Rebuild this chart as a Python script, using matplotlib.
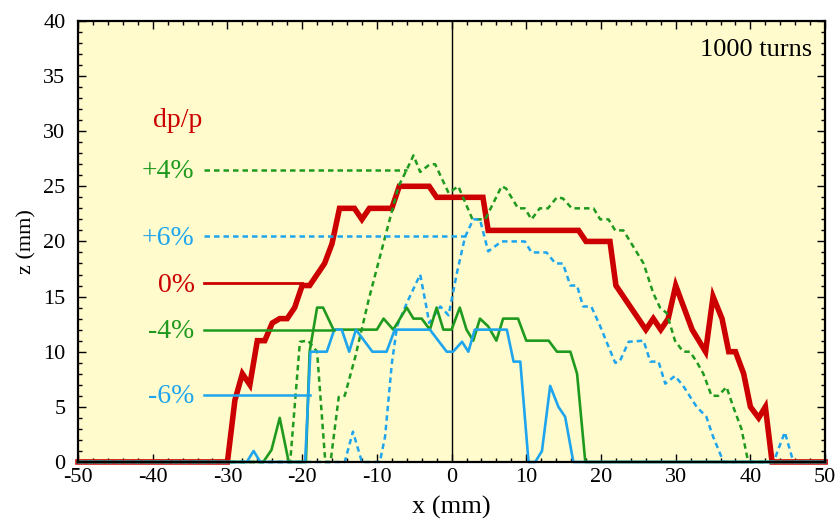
import matplotlib
matplotlib.use("Agg")
import matplotlib.pyplot as plt
from matplotlib.ticker import MultipleLocator
from matplotlib.transforms import ScaledTranslation

plt.rcParams['font.family'] = ['Liberation Serif', 'DejaVu Serif']
plt.rcParams['axes.unicode_minus'] = False

# dp/p = 0 %
red_x = [-50, -30, -29, -28, -27, -26, -25, -24, -23, -22, -21, -20, -19, -18, -17, -16, -15, -13, -12, -11, -8, -7, -3, -2, 4.2, 4.9, 17, 18, 21.2, 22, 26, 27, 28, 29, 30, 32.2, 34, 35, 36.2, 37.1, 38, 39.1, 40, 41.1, 42, 42.9, 50]
red_z = [0, 0, 5.6, 8, 7, 11, 11, 12.6, 13, 13, 14, 16, 16, 17, 18, 19.8, 23, 23, 22, 23, 23, 25, 25, 24, 24, 21, 21, 20, 20, 16, 12, 13, 12, 13, 16, 12, 10, 15, 13, 10, 10, 8, 5, 4, 5, 0, 0]

# dp/p = -4 %
gs_x = [-50, -25.2, -24.1, -23, -21.8, -19.5, -19, -18, -17.2, -15.8, -10, -9.1, -7.8, -6, -5.1, -4, -2.9, -2, -1.1, 0, 1.1, 2, 2.9, 3.8, 4.9, 6, 6.9, 8.9, 10, 13, 14.1, 15.9, 16.8, 17.9, 50]
gs_z = [0, 0, 1.1, 4, 0, 0, 10, 14, 14, 12, 12, 13, 12, 14, 13, 13, 12, 14, 12, 12, 14, 12, 11, 13, 12.3, 11, 13, 13, 11, 11, 10, 10, 8, 0, 0]

# dp/p = -6 %
bs_x = [-50, -27.4, -26.5, -25.6, -19.6, -18.9, -16.7, -15.7, -14.7, -13.7, -12.8, -10.6, -8.7, -7.6, -2.9, -0.65, 0.2, 1.4, 2.25, 3.1, 7.4, 8.3, 9.2, 10.3, 11.2, 12.1, 13.2, 14.3, 15.2, 16.3, 50]
bs_z = [0, 0, 1, 0, 0, 10, 10, 12, 12, 10, 12, 10, 10, 12, 12, 10, 10, 10.9, 10, 12, 12, 9.1, 9.1, 0, 0, 1, 6.9, 5, 4.1, 0, 0]

# dp/p = +4 %
gd_x = [-50, -21.6, -20.3, -19.2, -18, -16.9, -16.2, -15.1, -14.3, -12.9, -11.1, -8.9, -7.1, -6, -5.1, -4.2, -2.9, -2.2, -0.4, 0.9, 2.8, 4.5, 6.7, 7.3, 8.9, 9.8, 10.7, 11.8, 12.9, 14.1, 14.9, 16.1, 19, 19.9, 21, 21.9, 23, 23.9, 25.7, 27, 27.9, 28.8, 29.9, 31, 31.9, 32.8, 33.7, 34.8, 35.7, 36.8, 37.7, 38.8, 39.7, 50]
gd_z = [0, 0, 10.9, 11, 10, 0, 0, 5.9, 6, 9.5, 14.7, 20.4, 25, 26.5, 27.8, 26.3, 27, 27, 24.4, 25, 22, 22, 25, 24.8, 23, 23, 22, 23, 23, 24, 23.9, 23, 23, 22, 22, 21, 21, 20, 18, 15.3, 14, 13.5, 11, 10, 10, 9.1, 8, 6, 6, 6.8, 5, 3, 0, 0]

# dp/p = +6 %
bd_x = [-50, -14.3, -13.2, -12, -9.6, -8.9, -8, -7.3, -6, -4.2, -3.3, -3.0, -1.5, -0.4, 0.7, 1.8, 2.9, 3.8, 4.9, 5.7, 6.7, 9.8, 10.7, 12.7, 13.9, 14.9, 15.9, 16.8, 17.6, 18.7, 19.9, 20.8, 21.9, 22.5, 23.7, 25.7, 26.6, 27.7, 28.6, 29.9, 31, 32.8, 34.1, 35, 36.4, 43.1, 44.6, 45.75, 50]
bd_z = [0, 0, 2.75, 0, 0, 2.3, 8.9, 12.3, 14.4, 17, 13.8, 12.6, 14.1, 13.3, 17.1, 20.4, 22, 22, 19.1, 19.5, 20, 20, 19, 19, 18, 18, 16, 16, 14.1, 14.1, 12.3, 10.8, 9, 9.1, 10.9, 11, 9.1, 9.1, 7.1, 7.8, 6.9, 5, 4.1, 2.3, 0, 0, 2.7, 0, 0]

# legend labels and their lead lines
leg_labels = ['+4%', '+6%', '0%', '-4%', '-6%']
leg_z = [26.5, 20.5, 16.2, 12.0, 6.1]
leg_x_end = [-6.0, 2.0, -20.0, -15.8, -18.9]

RED = '#cc0000'
GREEN = '#1f9a1f'
BLUE = '#1ea5ee'
BG = '#fffbcc'

leg_colors = [GREEN, BLUE, RED, GREEN, BLUE]
leg_styles = [(0, (2.2, 1.6)), (0, (2.2, 1.6)), '-', '-', '-']

fig = plt.figure(figsize=(8.36, 5.22), dpi=100)
ax = fig.add_axes([0.0933, 0.115, 0.8937, 0.845])
ax.set_facecolor(BG)

ax.axvline(0, color='black', lw=1.0, zorder=1)

ax.plot(red_x, red_z, color=RED, lw=4.0, solid_joinstyle='miter', zorder=2, clip_on=False)
ax.plot(gd_x, gd_z, color=GREEN, lw=1.8, ls=(0, (2.2, 1.6)), zorder=3, clip_on=False)
ax.plot(bd_x, bd_z, color=BLUE, lw=1.8, ls=(0, (2.2, 1.6)), zorder=3, clip_on=False)
ax.plot(gs_x, gs_z, color=GREEN, lw=1.9, zorder=3, clip_on=False)
ax.plot(bs_x, bs_z, color=BLUE, lw=1.9, zorder=3, clip_on=False)

for lab, z, xe, c, s in zip(leg_labels, leg_z, leg_x_end, leg_colors, leg_styles):
    lw = 2.0 if c == RED else 1.8
    ax.plot([-33.2, xe], [z, z], color=c, lw=lw, ls=s, zorder=3)
    ax.text(-34.4, z - 0.2, lab, color=c, fontsize=20, ha='right', va='center')

ax.text(-36.6, 31.0, 'dp/p', color=RED, fontsize=20, ha='center', va='center')
ax.text(48.2, 37.4, '1000 turns', color='black', fontsize=19, ha='right', va='center')

ax.set_xlim(-50, 50)
ax.set_ylim(0, 40)
ax.xaxis.set_major_locator(MultipleLocator(10))
ax.xaxis.set_minor_locator(MultipleLocator(2))
ax.yaxis.set_major_locator(MultipleLocator(5))
ax.yaxis.set_minor_locator(MultipleLocator(1))
ax.tick_params(which='both', direction='in', top=True, right=True, width=1.0)
ax.tick_params(which='major', length=6, labelsize=16)
ax.tick_params(which='minor', length=3)
ax.tick_params(axis='x', which='major', pad=4)
ax.tick_params(axis='y', which='major', pad=9)
for sp in ax.spines.values():
    sp.set_linewidth(1.6)
    sp.set_zorder(5)

ax.set_xlabel('x (mm)', fontsize=19, labelpad=7)
ax.set_ylabel('z (mm)', fontsize=16, labelpad=5)

# nudge the first x tick label slightly right, as in the reference
fig.canvas.draw()
first = ax.xaxis.get_major_ticks()[0].label1
first.set_transform(first.get_transform() + ScaledTranslation(5 / 100, 0, fig.dpi_scale_trans))

fig.savefig('out.png', dpi=100, facecolor='white')
